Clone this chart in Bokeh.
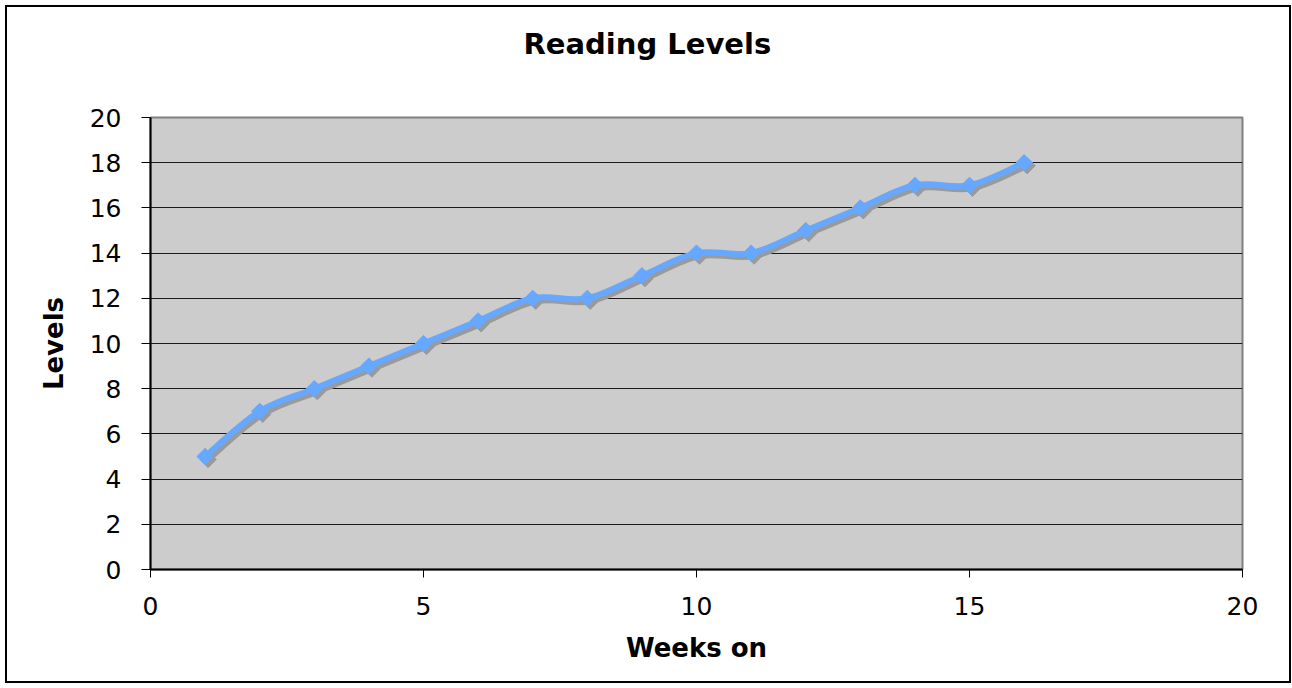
import numpy as np
from bokeh.plotting import figure
from bokeh.models import Range1d, FixedTicker, Title
from bokeh.embed import file_html
from bokeh.resources import INLINE

# ---- data ----
weeks = [1, 2, 3, 4, 5, 6, 7, 8, 9, 10, 11, 12, 13, 14, 15, 16]
levels = [5, 7, 8, 9, 10, 11, 12, 12, 13, 14, 14, 15, 16, 17, 17, 18]
x_ticks = [0, 5, 10, 15, 20]
y_ticks = [0, 2, 4, 6, 8, 10, 12, 14, 16, 18, 20]
title_text = "Reading Levels"
x_label = "Weeks on"
y_label = "Levels"

FONT = "DejaVu Sans"
LINE_COLOR = "#66A8FF"
SHADOW = "#9A9A9A"

FW, FH = 1092, 452
p = figure(
    frame_width=FW, frame_height=FH,
    min_border_left=143, min_border_right=47,
    min_border_top=110, min_border_bottom=112,
    x_range=Range1d(0, 20), y_range=Range1d(0, 20),
    output_backend="svg", toolbar_location=None,
    background_fill_color="#CCCCCC", border_fill_color="white",
    styles={"border": "2px solid black", "margin": "5px 0 0 5px"},
)

# spacer between the frame and the title
p.add_layout(Title(text=" ", text_font_size="1px", standoff=54), "above")

# title
p.title.text = title_text
p.title.text_font = FONT
p.title.text_font_size = "29px"
p.title.text_font_style = "bold"
p.title.text_color = "black"
p.title.align = "left"
p.title.offset = 373
p.title.vertical_align = "bottom"
p.title.standoff = 0

p.outline_line_color = "#808080"
p.outline_line_width = 2

# grids
p.xgrid.grid_line_color = None
p.ygrid.ticker = FixedTicker(ticks=y_ticks)
p.ygrid.grid_line_color = "#1A1A1A"
p.ygrid.grid_line_width = 1

# axes
for ax in (p.xaxis[0], p.yaxis[0]):
    ax.axis_line_color = "black"
    ax.axis_line_width = 2
    ax.major_tick_line_color = "black"
    ax.major_tick_line_width = 1
    ax.major_tick_in = 0
    ax.minor_tick_line_color = None
    ax.major_label_text_font = FONT
    ax.major_label_text_font_size = "25px"
    ax.major_label_text_color = "black"
    ax.axis_label_text_font = FONT
    ax.axis_label_text_font_size = "26px"
    ax.axis_label_text_font_style = "bold"
    ax.axis_label_text_color = "black"

p.xaxis.ticker = FixedTicker(ticks=x_ticks)
p.yaxis.ticker = FixedTicker(ticks=y_ticks)
p.xaxis.axis_label = x_label
p.yaxis.axis_label = y_label
p.xaxis.major_tick_out = 8
p.yaxis.major_tick_out = 9
p.xaxis.major_label_standoff = 19
p.yaxis.major_label_standoff = 20
p.xaxis.axis_label_standoff = 15
p.yaxis.axis_label_standoff = 18

# ---- smoothed line (Bezier segments through the data points) ----
xs = np.array(weeks, dtype=float)
ys = np.array(levels, dtype=float)
n = len(xs)
px = np.concatenate([[xs[0]], xs, [xs[-1]]])
py = np.concatenate([[ys[0]], ys, [ys[-1]]])
x0 = xs[:-1]; y0 = ys[:-1]; x1 = xs[1:]; y1 = ys[1:]
cx0 = x0 + (px[2:n + 1] - px[0:n - 1]) / 6.0
cy0 = y0 + (py[2:n + 1] - py[0:n - 1]) / 6.0
cx1 = x1 - (px[3:n + 2] - px[1:n]) / 6.0
cy1 = y1 - (py[3:n + 2] - py[1:n]) / 6.0

# shadow offset (pixels -> data units)
dx = 3.0 * 20.0 / FW
dy = -3.0 * 20.0 / FH

p.bezier(x0=x0 + dx, y0=y0 + dy, x1=x1 + dx, y1=y1 + dy,
         cx0=cx0 + dx, cy0=cy0 + dy, cx1=cx1 + dx, cy1=cy1 + dy,
         line_color=SHADOW, line_width=6)
p.scatter(xs + dx, ys + dy, marker="square", angle=np.pi / 4, size=11.5,
          fill_color=SHADOW, line_color=SHADOW)
p.bezier(x0=x0, y0=y0, x1=x1, y1=y1, cx0=cx0, cy0=cy0, cx1=cx1, cy1=cy1,
         line_color=LINE_COLOR, line_width=6)
p.scatter(xs, ys, marker="square", angle=np.pi / 4, size=11.5,
          fill_color=LINE_COLOR, line_color=LINE_COLOR)

open("out.html", "w").write(file_html(p, INLINE))
